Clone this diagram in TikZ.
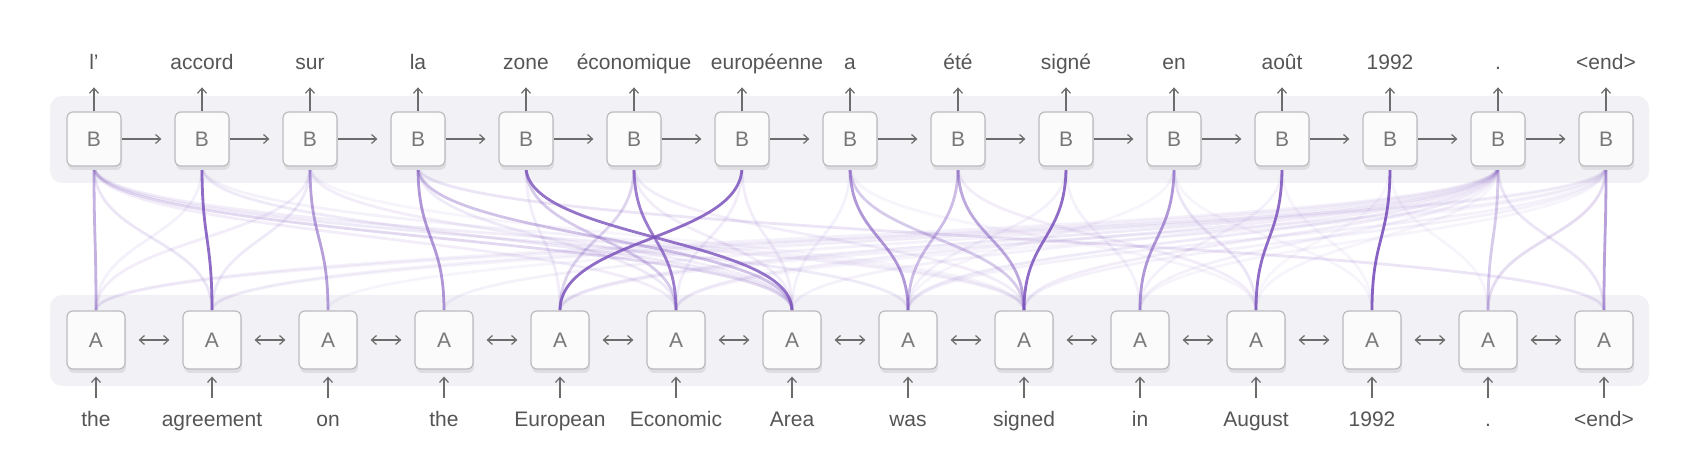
\documentclass[tikz,border=0pt]{standalone}
\usepackage{fontspec}
\setmainfont{Liberation Sans}
\usetikzlibrary{arrows.meta,shadows,backgrounds}

\definecolor{bandfill}{RGB}{242,241,246}
\definecolor{boxfill}{RGB}{251,251,251}
\definecolor{boxline}{RGB}{188,188,192}
\definecolor{boxshadow}{RGB}{222,221,226}
\definecolor{wordgray}{RGB}{85,85,85}
\definecolor{lettergray}{RGB}{120,120,120}
\definecolor{arrowgray}{RGB}{108,108,108}
\definecolor{attnpurple}{RGB}{123,82,188}

\begin{document}
\begin{tikzpicture}[x=0.5pt,y=0.5pt, >={Straight Barb[length=2.5pt,width=4.5pt]},
    font=\fontsize{10.5}{12}\selectfont,
    bbox/.style={draw=boxline, fill=boxfill, line width=0.6pt, rounded corners=3pt,
        minimum size=27pt, inner sep=0pt, text=lettergray,
        drop shadow={shadow xshift=0.5pt, shadow yshift=-2pt, fill=boxshadow, opacity=1}},
    abox/.style={bbox, minimum size=29pt},
    word/.style={text=wordgray, inner sep=0pt, anchor=base, text height=7.5pt, text depth=0pt},
    flow/.style={draw=arrowgray, line width=0.6pt, ->},
    link/.style={draw=attnpurple, line width=1.4pt}]
    \useasboundingbox (0,0) rectangle (1704,466);

    % decoder row (top)
    \foreach \w [count=\i from 0] in {l’,accord,sur,la,zone,économique,européenne,a,été,signé,en,août,1992,.,<end>} {
        \node[bbox] (b\i) at ({94+108*\i},327) {B};
        \node[word] (tout\i) at ({94+108*\i+25*(\i==6)},396) {\w};
        \draw[flow, shorten >=8.5pt] (b\i.north) -- (b\i.north |- tout\i.south);
    }
    \foreach \i [evaluate=\i as \j using int(\i+1)] in {0,...,13}
        \draw[flow, shorten >=6.5pt] (b\i) -- (b\j);

    % encoder row (bottom)
    \foreach \w [count=\i from 0] in {the,agreement,on,the,European,Economic,Area,was,signed,in,August,1992,.,<end>} {
        \node[abox] (a\i) at ({96+116*\i},126) {A};
        \node[word] (tin\i) at ({96+116*\i},39) {\w};
        \draw[flow, shorten <=7pt, shorten >=3.5pt] (tin\i) -- (a\i);
    }
    \foreach \i [evaluate=\i as \j using int(\i+1)] in {0,...,12}
        \draw[flow, <->, shorten <=6.5pt, shorten >=6.5pt] (a\i) -- (a\j);

    \begin{scope}[on background layer]
        \fill[bandfill, rounded corners=6pt] (50,283) rectangle (1649,370);
        \fill[bandfill, rounded corners=6pt] (50,80) rectangle (1649,171);
        % attention weights: decoder/encoder/weight
        \foreach \i/\j/\w in {
            0/1/0.15, 0/5/0.1, 0/6/0.22, 0/7/0.12, 0/8/0.1,
            1/0/0.08, 1/6/0.12, 1/8/0.08,
            2/0/0.1, 2/1/0.12, 2/6/0.1, 2/8/0.06,
            3/5/0.12, 3/6/0.35, 3/13/0.15,
            4/4/0.1, 4/5/0.3,
            5/4/0.25, 5/6/0.1, 5/8/0.1,
            6/5/0.1, 6/6/0.1,
            7/6/0.08, 7/10/0.06, 8/10/0.1,
            9/7/0.08, 9/9/0.08,
            10/7/0.06, 10/10/0.15, 10/11/0.06,
            11/9/0.08, 11/11/0.06, 12/10/0.05, 12/12/0.06,
            13/0/0.08, 13/1/0.08, 13/2/0.06, 13/3/0.08, 13/4/0.12, 13/5/0.1,
            13/6/0.08, 13/7/0.12, 13/8/0.1, 13/9/0.08, 13/10/0.06, 13/13/0.15,
            14/0/0.08, 14/1/0.06, 14/4/0.08, 14/5/0.06, 14/7/0.08, 14/8/0.08,
            14/9/0.06, 14/12/0.2,
            7/8/0.3, 8/7/0.38,
            0/0/0.45, 1/1/0.85, 2/2/0.55, 3/3/0.6, 4/6/0.8, 5/5/0.75,
            6/4/0.85, 7/7/0.6, 8/8/0.5, 9/8/0.85, 10/9/0.6, 11/10/0.85,
            12/11/0.9, 13/12/0.3, 14/13/0.55}
            \draw[link, opacity=\w] (b\i.south) .. controls +(0,-72.5) and +(0,72.5) .. (a\j.north);
    \end{scope}
\end{tikzpicture}
\end{document}
